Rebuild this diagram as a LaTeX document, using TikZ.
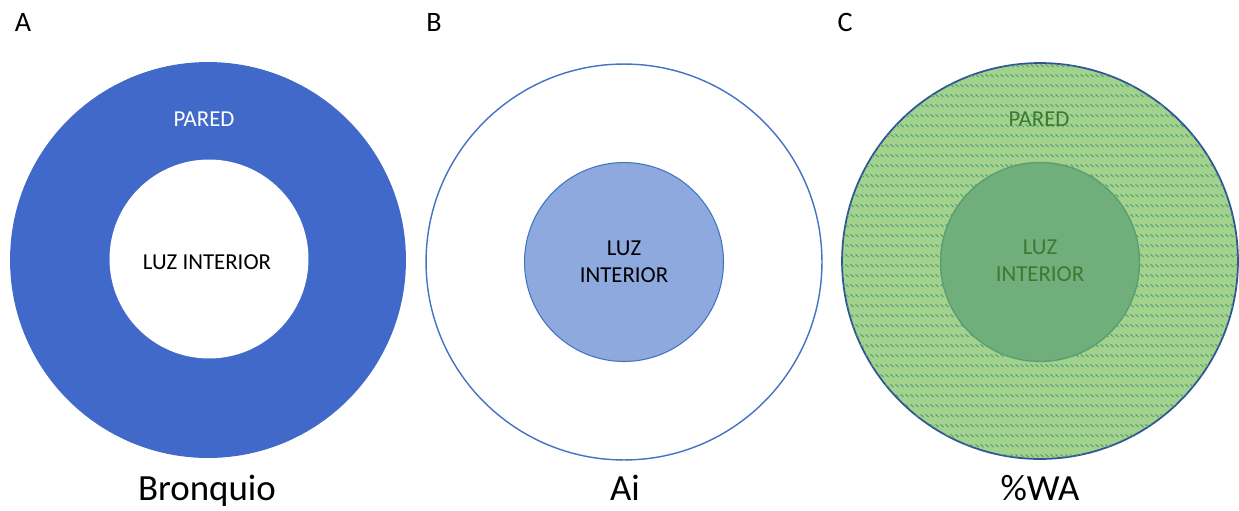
\documentclass[tikz,border=0pt]{standalone}
\usepackage{fontspec}
\setmainfont{Carlito}
\usetikzlibrary{patterns}

\definecolor{wallblue}{HTML}{4169C9}
\definecolor{edgeblue}{HTML}{4472C4}
\definecolor{lumenblue}{HTML}{8EA9DE}
\definecolor{wallgreen}{HTML}{A2D28C}
\definecolor{hatchgreen}{HTML}{4F9E7E}
\definecolor{lumengreen}{HTML}{70AE7C}
\definecolor{lumenedge}{HTML}{5A9E74}
\definecolor{ringedge}{HTML}{2F5597}
\definecolor{textgreen}{HTML}{3B7A2F}

\pgfdeclarepatternformonly{dashdiag}{\pgfqpoint{0pt}{0pt}}{\pgfqpoint{2.9pt}{5.7pt}}{\pgfqpoint{2.9pt}{5.7pt}}{%
  \pgfsetlinewidth{0.6pt}
  \pgfpathmoveto{\pgfqpoint{0.3pt}{3.5pt}}
  \pgfpathlineto{\pgfqpoint{2.4pt}{1.9pt}}
  \pgfusepath{stroke}}

\begin{document}
\begin{tikzpicture}[x=0.02cm, y=-0.02cm,
    ring/.style={circle, inner sep=0pt, minimum size=7.92cm},
    core/.style={circle, inner sep=0pt, minimum size=3.98cm},
    small/.style={font=\fontsize{13}{15.5}\selectfont, align=center},
    panel/.style={font=\fontsize{16}{19}\selectfont, anchor=base},
    caption/.style={font=\fontsize{21}{25}\selectfont, anchor=base}]

    \useasboundingbox (0,0) rectangle (1239,510);

    \node[ring, fill=wallblue] (wallA) at (208,260) {};
    \node[core, fill=white] (lumenA) at (209,259) {};
    \node[ring, draw=edgeblue, line width=0.8pt, fill=white] (wallB) at (624,262) {};
    \node[core, draw=edgeblue, line width=0.6pt, fill=lumenblue] (lumenB) at (624,262) {};
    \node[ring, draw=ringedge, line width=1pt, fill=wallgreen,
          postaction={pattern=dashdiag, pattern color=hatchgreen}] (wallC) at (1040,261) {};
    \node[core, draw=lumenedge, line width=0.8pt, fill=lumengreen] (lumenC) at (1040,262) {};

    \node[panel] (labA) at (23,32) {A};
    \node[panel] (labB) at (434,32) {B};
    \node[panel] (labC) at (845,32) {C};

    \node[small, text=white] (paredA) at (204,119) {PARED};
    \node[small] (luzA) at (207,262) {LUZ INTERIOR};
    \node[small] (luzB) at (lumenB) {LUZ\\INTERIOR};
    \node[small, text=textgreen] (paredC) at (1039,119) {PARED};
    \node[small, text=textgreen] (luzC) at (1040,261) {LUZ\\INTERIOR};

    \node[caption] (capA) at (207,500) {Bronquio};
    \node[caption] (capB) at (625,500) {Ai};
    \node[caption] (capC) at (1040,500) {\%WA};

\end{tikzpicture}
\end{document}
